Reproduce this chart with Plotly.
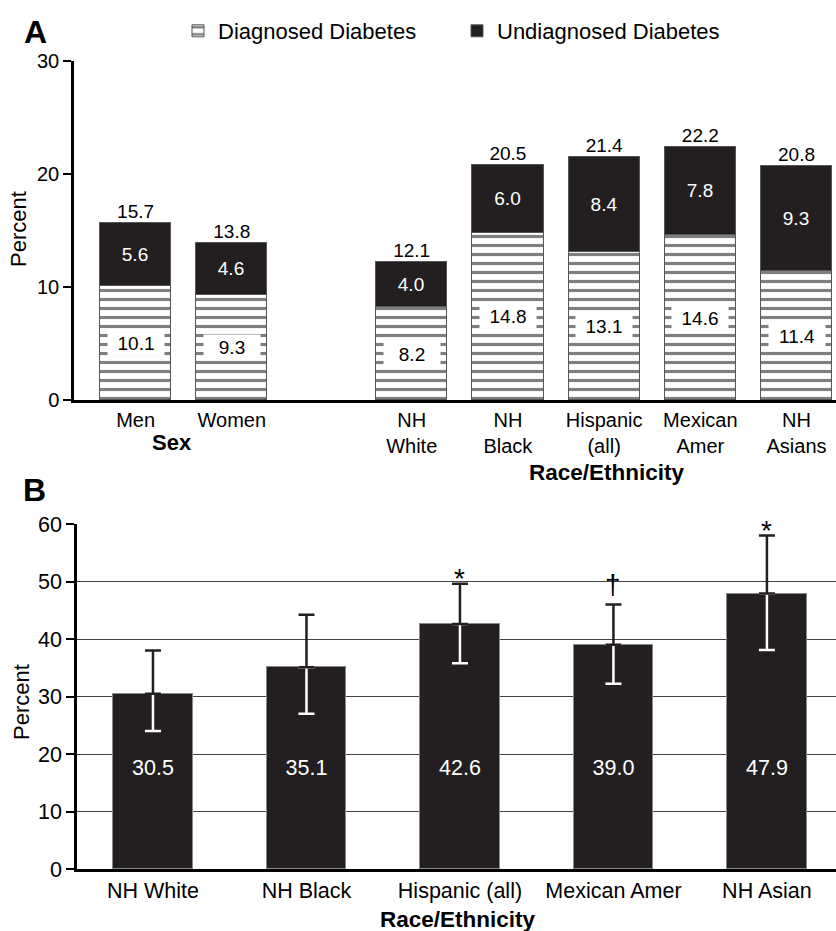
import plotly.graph_objects as go

W, H = 836, 931
FONT = "Liberation Sans, Arial, sans-serif"
DARK = "#231f20"

# ---------------- Data ----------------
# Panel A
a_labels = ["Men", "Women", "NH<br>White", "NH<br>Black", "Hispanic<br>(all)", "Mexican<br>Amer", "NH<br>Asians"]
a_diagnosed = [10.1, 9.3, 8.2, 14.8, 13.1, 14.6, 11.4]
a_undiagnosed = [5.6, 4.6, 4.0, 6.0, 8.4, 7.8, 9.3]
a_total = [15.7, 13.8, 12.1, 20.5, 21.4, 22.2, 20.8]
a_ticks = [0, 10, 20, 30]

# Panel B
b_labels = ["NH White", "NH Black", "Hispanic (all)", "Mexican Amer", "NH Asian"]
b_values = [30.5, 35.1, 42.6, 39.0, 47.9]
b_upper = [38.0, 44.2, 49.6, 46.0, 58.0]
b_lower = [24.0, 27.0, 35.8, 32.2, 38.1]
b_marks = ["", "", "*", "\u2020", "*"]
b_ticks = [0, 10, 20, 30, 40, 50, 60]

# ---------------- Layout positions (not data) ----------------
a_pos = [0, 1, 2.87, 3.87, 4.87, 5.87, 6.87]
b_pos = [0, 1, 2, 3, 4]
b_label_level = 17.2
mark_shift = {"*": -12, "\u2020": 3}


def px(x):
    return x / W


def py(y):
    return 1 - y / H


fig = go.Figure()

# Panel A stacked bars
fig.add_trace(go.Bar(
    x=a_pos, y=a_diagnosed, width=0.74, name="Diagnosed Diabetes",
    marker=dict(color="white", line=dict(color="#555", width=1),
                pattern=dict(shape="-", fgcolor="black", bgcolor="white", size=9, solidity=0.35)),
    xaxis="x", yaxis="y", hoverinfo="skip"))
fig.add_trace(go.Bar(
    x=a_pos, y=a_undiagnosed, width=0.74, name="Undiagnosed Diabetes",
    marker=dict(color=DARK, line=dict(color="#555", width=1)),
    text=[f"{v:.1f}" for v in a_undiagnosed], textposition="inside",
    insidetextanchor="middle", textangle=0, constraintext="none",
    textfont=dict(color="white", size=19, family=FONT),
    xaxis="x", yaxis="y", hoverinfo="skip"))
# totals above bars
fig.add_trace(go.Scatter(
    x=a_pos, y=[d + u for d, u in zip(a_diagnosed, a_undiagnosed)],
    mode="text", text=[f"{v:.1f}" for v in a_total], textposition="top center",
    textfont=dict(color="black", size=19, family=FONT), showlegend=False,
    cliponaxis=False, xaxis="x", yaxis="y", hoverinfo="skip"))

# Panel B bars
fig.add_trace(go.Bar(
    x=b_pos, y=b_values, width=0.52, showlegend=False,
    marker=dict(color=DARK, line=dict(color="#888", width=1)),
    xaxis="x2", yaxis="y2", hoverinfo="skip"))
# lower error (white, inside bar)
fig.add_trace(go.Scatter(
    x=b_pos, y=b_values, mode="markers", marker=dict(size=1, color="rgba(0,0,0,0)"),
    error_y=dict(type="data", symmetric=False, array=[0] * len(b_values),
                 arrayminus=[v - l for v, l in zip(b_values, b_lower)],
                 color="white", thickness=2.5, width=8),
    showlegend=False, xaxis="x2", yaxis="y2", hoverinfo="skip"))
# upper error (black, above bar)
fig.add_trace(go.Scatter(
    x=b_pos, y=b_values, mode="markers", marker=dict(size=1, color="rgba(0,0,0,0)"),
    error_y=dict(type="data", symmetric=False, array=[u - v for u, v in zip(b_upper, b_values)],
                 arrayminus=[0] * len(b_values),
                 color=DARK, thickness=2.5, width=8),
    showlegend=False, xaxis="x2", yaxis="y2", hoverinfo="skip"))
# value labels inside bars
fig.add_trace(go.Scatter(
    x=b_pos, y=[b_label_level] * len(b_values), mode="text",
    text=[f"{v:.1f}" for v in b_values], textposition="middle center",
    textfont=dict(color="white", size=21.5, family=FONT), showlegend=False,
    xaxis="x2", yaxis="y2", hoverinfo="skip"))

annotations = []
# diagnosed labels with white background
for p, d in zip(a_pos, a_diagnosed):
    annotations.append(dict(x=p, y=d / 2, xref="x", yref="y", text=f"{d:.1f}",
                            showarrow=False, bgcolor="white", width=54, height=22,
                            font=dict(size=19, color="black", family=FONT)))
# significance marks
for p, u, m in zip(b_pos, b_upper, b_marks):
    if m:
        annotations.append(dict(x=p, y=u, xref="x2", yref="y2", text=m, showarrow=False,
                                xanchor="center", yanchor="bottom", yshift=mark_shift[m],
                                font=dict(size=28, color="black", family=FONT)))


def ann(x, y, text, size, angle=0):
    return dict(x=px(x), y=py(y), xref="paper", yref="paper", text=text, textangle=angle,
                xanchor="center", yanchor="middle", showarrow=False,
                font=dict(size=size, color="black", family=FONT))


annotations += [
    ann(35, 32, "<b>A</b>", 32),
    ann(34, 490, "<b>B</b>", 32),
    ann(18, 229, "Percent", 22, -90),
    ann(21, 702, "Percent", 22, -90),
    ann(171.5, 442, "<b>Sex</b>", 22),
    ann(606.5, 472, "<b>Race/Ethnicity</b>", 22.5),
    ann(457.5, 919, "<b>Race/Ethnicity</b>", 22.5),
]

fig.update_layout(
    width=W, height=H,
    margin=dict(l=0, r=0, t=0, b=0),
    paper_bgcolor="white", plot_bgcolor="white",
    barmode="stack", bargap=0,
    font=dict(family=FONT, color="black"),
    showlegend=True,
    legend=dict(orientation="h", x=px(178), y=py(10), xanchor="left", yanchor="top",
                font=dict(size=22, family=FONT, color="black"), itemwidth=30,
                entrywidth=234, entrywidthmode="pixels",
                traceorder="normal"),
    xaxis=dict(domain=[px(74), 1], range=[-0.64, 7.28], tickvals=a_pos, ticktext=a_labels,
               showline=True, linecolor="black", linewidth=2.5, ticks="", showgrid=False,
               zeroline=False, tickfont=dict(size=20, family=FONT, color="black"),
               anchor="y", automargin=False),
    yaxis=dict(domain=[py(400), py(61)], range=[0, 30], tickvals=a_ticks,
               showline=True, linecolor="black", linewidth=2.5, ticks="outside",
               ticklen=8, tickwidth=2, tickcolor="black", showgrid=False, zeroline=False,
               tickfont=dict(size=20, family=FONT, color="black"), anchor="x",
               automargin=False),
    xaxis2=dict(domain=[px(77), 1], range=[-0.495, 4.45], tickvals=b_pos, ticktext=b_labels,
                showline=True, linecolor="black", linewidth=2.5, ticks="", showgrid=False,
                zeroline=False, tickfont=dict(size=21.5, family=FONT, color="black"),
                anchor="y2", automargin=False),
    yaxis2=dict(domain=[py(869), py(524)], range=[0, 60], tickvals=b_ticks,
                showline=True, linecolor="black", linewidth=2.5, ticks="outside",
                ticklen=8, tickwidth=2, tickcolor="black", showgrid=True,
                gridcolor="#444", gridwidth=1, zeroline=False,
                tickfont=dict(size=21.5, family=FONT, color="black"), anchor="x2",
                automargin=False),
    annotations=annotations,
)

fig.write_html("out.html")
